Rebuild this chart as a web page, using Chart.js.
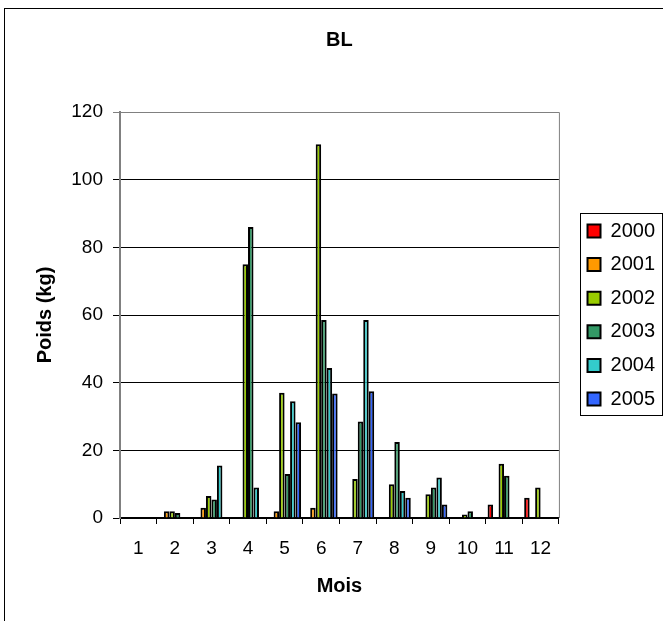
<!DOCTYPE html>
<html>
<head>
<meta charset="utf-8">
<script src="https://cdn.jsdelivr.net/npm/chart.js@4/dist/chart.umd.min.js"></script>
<style>
  body { margin: 0; background: #fff; }
  #wrap { position: relative; width: 663px; height: 621px; }
</style>
</head>
<body>
<div id="wrap"><canvas id="blChart"></canvas></div>
<script>
// months on the x axis
var mois = ['1', '2', '3', '4', '5', '6', '7', '8', '9', '10', '11', '12'];

// weight per month (kg), one array per year -- null = no bar
var y2000 = [null, null, null, null, null, null, null, null, null, null, 4, 6];
var y2001 = [null, 2, 3, null, 2, 3, null, null, null, null, null, null];
var y2002 = [null, 2, 6.5, 75, 37, 110.5, 11.5, 10, 7, 1, 16, 9];
var y2003 = [null, 1.5, 5.5, 86, 13, 58.5, 28.5, 22.5, 9, 2, 12.5, null];
var y2004 = [null, null, 15.5, 9, 34.5, 44.3, 58.5, 8, 12, null, null, null];
var y2005 = [null, null, null, null, 28.3, 36.8, 37.5, 6, 4, null, null, null];

var yTicks = [0, 20, 40, 60, 80, 100, 120];

Chart.defaults.font.family = 'Arial, "Liberation Sans", sans-serif';
Chart.defaults.color = '#000';

function serie(label, data, color) {
  return {
    label: label,
    data: data,
    backgroundColor: color,
    borderColor: '#000',
    borderWidth: 2,
    barPercentage: 1,
    categoryPercentage: 0.9
  };
}

// frame, plot border and legend box (Excel look)
var decor = {
  id: 'decor',
  afterLayout: function (chart) {
    // push the legend a bit to the right, like the original
    chart.legend.left += 15;
    chart.legend.right += 15;
  },
  afterDraw: function (chart) {
    var c = chart.ctx, a = chart.chartArea, lg = chart.legend;
    c.save();
    c.lineWidth = 1;
    c.strokeStyle = '#000';
    c.strokeRect(4.5, 8.5, chart.width + 20, chart.height + 20);

    c.strokeStyle = '#808080';
    c.beginPath();
    c.moveTo(a.left, a.top + 0.5);
    c.lineTo(a.right + 0.5, a.top + 0.5);
    c.lineTo(a.right + 0.5, a.bottom);
    c.stroke();

    // legend border
    var pad = lg.options.labels.padding;
    var h = lg.columnSizes[0].height;
    var itemsTop = (lg.top + pad + lg.bottom - h) / 2;
    var x0 = Math.round(lg.left + pad - 8) + 0.5;
    var y0 = Math.round(itemsTop - 8) + 0.5;
    var y1 = Math.round(itemsTop + h - pad + 6) + 0.5;
    c.strokeStyle = '#000';
    c.strokeRect(x0, y0, chart.width - 0.5 - x0, y1 - y0);
    c.restore();
  }
};

var ctx = document.getElementById('blChart').getContext('2d');
var chart = new Chart(ctx, {
  type: 'bar',
  data: {
    labels: mois,
    datasets: [
      serie('2000', y2000, '#FF0000'),
      serie('2001', y2001, '#FF9900'),
      serie('2002', y2002, '#99CC00'),
      serie('2003', y2003, '#339966'),
      serie('2004', y2004, '#33CCCC'),
      serie('2005', y2005, '#3366FF')
    ]
  },
  options: {
    responsive: true,
    maintainAspectRatio: false,
    animation: false,
    layout: { padding: { left: 0, right: 13, top: 0, bottom: 0 } },
    scales: {
      x: {
        grid: { drawOnChartArea: false, drawTicks: true, tickLength: 6, color: '#000' },
        border: { color: '#000', width: 1.5 },
        ticks: { font: { size: 19 }, padding: 13, maxRotation: 0 },
        title: { display: true, text: 'Mois', font: { size: 20, weight: 'bold' }, padding: { top: 0, bottom: 23 } },
        afterFit: function (s) { s.height = 103; }
      },
      y: {
        min: 0,
        max: 120,
        afterBuildTicks: function (s) { s.ticks = yTicks.map(function (v) { return { value: v }; }); },
        grid: {
          tickLength: 7,
          color: function (c) { return c.tick && c.tick.value === 120 ? '#808080' : '#000'; }
        },
        border: { color: '#808080', width: 2 },
        ticks: { font: { size: 19 }, padding: 10 },
        title: { display: true, text: 'Poids (kg)', font: { size: 20, weight: 'bold' }, padding: { top: 33, bottom: 0 } },
        afterFit: function (s) { s.width = 120; }
      }
    },
    plugins: {
      title: {
        display: true,
        text: 'BL',
        fullSize: false,
        font: { size: 20, weight: 'bold' },
        padding: { top: 28.5, bottom: 59.5 }
      },
      legend: {
        position: 'right',
        fullSize: false,
        labels: { font: { size: 20 }, boxWidth: 13, boxHeight: 13, padding: 13.6 }
      },
      tooltip: { enabled: false }
    }
  },
  plugins: [decor]
});
</script>
</body>
</html>
